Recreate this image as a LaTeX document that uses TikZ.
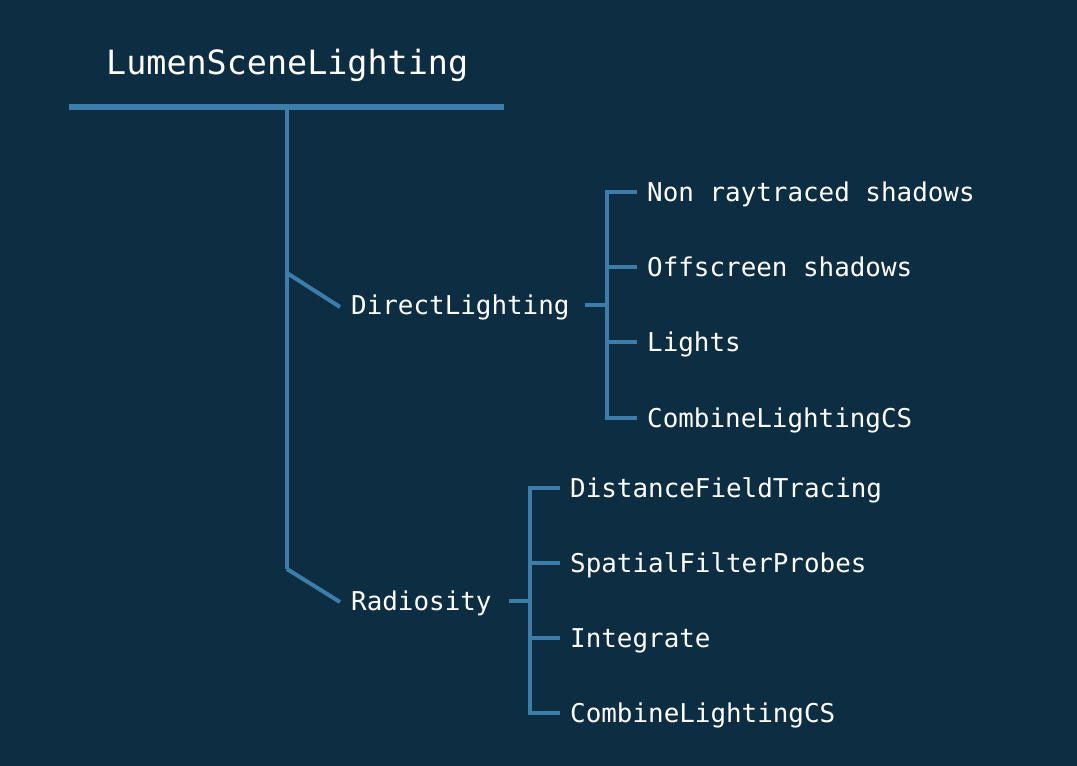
\documentclass[tikz,border=0pt]{standalone}
\usepackage{fontspec}
\setmonofont{DejaVu Sans Mono}
\definecolor{bgcol}{RGB}{12,45,66}
\definecolor{linecol}{RGB}{60,125,170}
\begin{document}
\begin{tikzpicture}[x=1pt,y=-1pt,
  conn/.style={draw=linecol,line width=4pt},
  vconn/.style={draw=linecol,line width=4pt,line cap=rect},
  bar/.style={draw=linecol,line width=6pt},
  lbl/.style={text=white,font=\ttfamily\fontsize{25.9pt}{30pt}\selectfont,inner sep=0pt,anchor=west,text height=19pt,text depth=0pt},
  ttl/.style={text=white,font=\ttfamily\fontsize{33.4pt}{38pt}\selectfont,inner sep=0pt,anchor=west,text height=24pt,text depth=0pt}]
\fill[bgcol] (0,0) rectangle (1077,766);
\useasboundingbox (0,0) rectangle (1077,766);
% nodes
\node[ttl] (root) at (106,62) {LumenSceneLighting};
\node[lbl] (dl) at (351,305) {DirectLighting};
\node[lbl] (rad) at (351,601) {Radiosity};
\node[lbl] (d1) at (647,192) {Non raytraced shadows};
\node[lbl] (d2) at (647,267) {Offscreen shadows};
\node[lbl] (d3) at (647,342) {Lights};
\node[lbl] (d4) at (647,418) {CombineLightingCS};
\node[lbl] (r1) at (570,488) {DistanceFieldTracing};
\node[lbl] (r2) at (570,563) {SpatialFilterProbes};
\node[lbl] (r3) at (570,638) {Integrate};
\node[lbl] (r4) at (570,713) {CombineLightingCS};
% coordinates
\coordinate (barL) at (69,107);
\coordinate (barR) at (504,107);
\coordinate (t0) at (287,107);
\coordinate (t1) at (287,273);
\coordinate (t2) at (287,569);
\coordinate (dj) at (607,305);
\coordinate (rj) at (530,601);
% root bar and trunk
\draw[bar] (barL) -- (barR);
\draw[conn] (t0) -- (t2);
\draw[conn] (t1) -- ([xshift=-11pt,yshift=-2pt]dl.west);
\draw[conn] (t2) -- ([xshift=-11pt,yshift=-1pt]rad.west);
% DirectLighting subtree
\draw[conn] ([xshift=15pt]dl.east) -- (dj);
\draw[vconn] (dj |- d1.west) -- (dj |- d4.west);
\foreach \n in {d1,d2,d3,d4}{
  \draw[conn] (dj |- \n.west) -- ([xshift=-10pt]\n.west);
}
% Radiosity subtree
\draw[conn] ([xshift=17pt]rad.east) -- (rj);
\draw[vconn] (rj |- r1.west) -- (rj |- r4.west);
\foreach \n in {r1,r2,r3,r4}{
  \draw[conn] (rj |- \n.west) -- ([xshift=-10pt]\n.west);
}
\end{tikzpicture}
\end{document}
